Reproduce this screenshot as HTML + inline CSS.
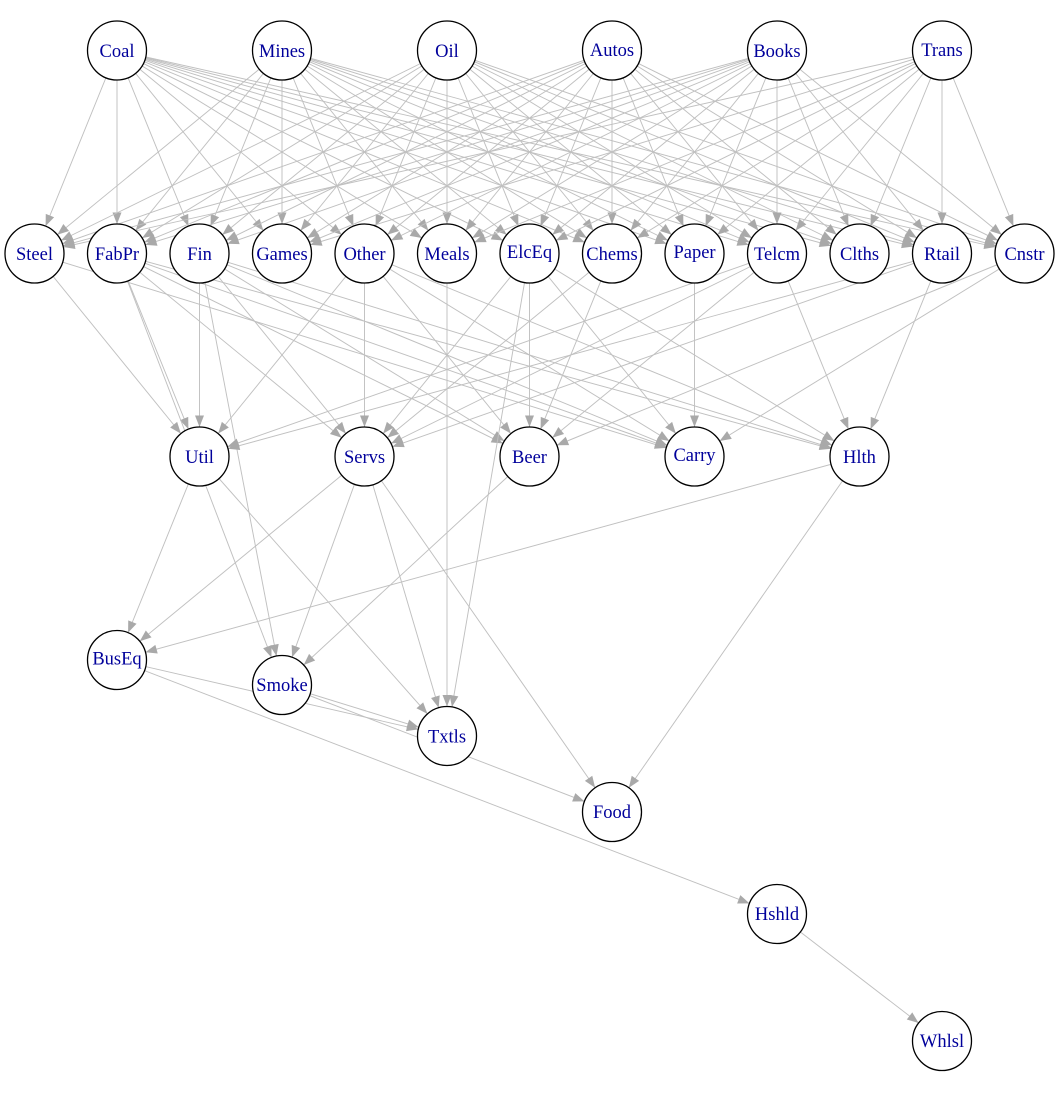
<!DOCTYPE html>
<html>
<head>
<meta charset="utf-8">
<style>
html,body{margin:0;padding:0;background:#fff;}
svg{display:block;}
line{stroke:#c0c0c0;stroke-width:.95;marker-end:url(#a);}
circle{fill:#fff;stroke:#000;stroke-width:1.3;}
text{font-family:"Liberation Serif",serif;font-size:18.5px;fill:#00009b;text-anchor:middle;}
</style>
</head>
<body>
<svg width="1062" height="1095" viewBox="0 0 1062 1095" xmlns="http://www.w3.org/2000/svg">
<defs>
<marker id="a" markerUnits="userSpaceOnUse" markerWidth="1" markerHeight="1" refX="0" refY="0" orient="auto" overflow="visible">
<polygon points="-29.5,0 -41,-4.5 -41,4.5" fill="#a9a9a9"/>
</marker>
</defs>
<g>
<line x1="117" y1="50.5" x2="34.5" y2="253.5"/><line x1="117" y1="50.5" x2="117" y2="253.5"/><line x1="117" y1="50.5" x2="199.5" y2="253.5"/><line x1="117" y1="50.5" x2="282" y2="253.5"/><line x1="117" y1="50.5" x2="364.5" y2="253.5"/><line x1="117" y1="50.5" x2="447" y2="253.5"/><line x1="117" y1="50.5" x2="529.5" y2="253.5"/><line x1="117" y1="50.5" x2="612" y2="253.5"/><line x1="117" y1="50.5" x2="694.5" y2="253.5"/><line x1="117" y1="50.5" x2="777" y2="253.5"/><line x1="117" y1="50.5" x2="859.5" y2="253.5"/><line x1="117" y1="50.5" x2="942" y2="253.5"/><line x1="117" y1="50.5" x2="1024.5" y2="253.5"/>
<line x1="282" y1="50.5" x2="34.5" y2="253.5"/><line x1="282" y1="50.5" x2="117" y2="253.5"/><line x1="282" y1="50.5" x2="199.5" y2="253.5"/><line x1="282" y1="50.5" x2="282" y2="253.5"/><line x1="282" y1="50.5" x2="364.5" y2="253.5"/><line x1="282" y1="50.5" x2="447" y2="253.5"/><line x1="282" y1="50.5" x2="529.5" y2="253.5"/><line x1="282" y1="50.5" x2="612" y2="253.5"/><line x1="282" y1="50.5" x2="694.5" y2="253.5"/><line x1="282" y1="50.5" x2="777" y2="253.5"/><line x1="282" y1="50.5" x2="859.5" y2="253.5"/><line x1="282" y1="50.5" x2="942" y2="253.5"/><line x1="282" y1="50.5" x2="1024.5" y2="253.5"/>
<line x1="447" y1="50.5" x2="34.5" y2="253.5"/><line x1="447" y1="50.5" x2="117" y2="253.5"/><line x1="447" y1="50.5" x2="199.5" y2="253.5"/><line x1="447" y1="50.5" x2="282" y2="253.5"/><line x1="447" y1="50.5" x2="364.5" y2="253.5"/><line x1="447" y1="50.5" x2="447" y2="253.5"/><line x1="447" y1="50.5" x2="529.5" y2="253.5"/><line x1="447" y1="50.5" x2="612" y2="253.5"/><line x1="447" y1="50.5" x2="694.5" y2="253.5"/><line x1="447" y1="50.5" x2="777" y2="253.5"/><line x1="447" y1="50.5" x2="859.5" y2="253.5"/><line x1="447" y1="50.5" x2="942" y2="253.5"/><line x1="447" y1="50.5" x2="1024.5" y2="253.5"/>
<line x1="612" y1="50.5" x2="34.5" y2="253.5"/><line x1="612" y1="50.5" x2="117" y2="253.5"/><line x1="612" y1="50.5" x2="199.5" y2="253.5"/><line x1="612" y1="50.5" x2="282" y2="253.5"/><line x1="612" y1="50.5" x2="364.5" y2="253.5"/><line x1="612" y1="50.5" x2="447" y2="253.5"/><line x1="612" y1="50.5" x2="529.5" y2="253.5"/><line x1="612" y1="50.5" x2="612" y2="253.5"/><line x1="612" y1="50.5" x2="694.5" y2="253.5"/><line x1="612" y1="50.5" x2="777" y2="253.5"/><line x1="612" y1="50.5" x2="859.5" y2="253.5"/><line x1="612" y1="50.5" x2="942" y2="253.5"/><line x1="612" y1="50.5" x2="1024.5" y2="253.5"/>
<line x1="777" y1="50.5" x2="34.5" y2="253.5"/><line x1="777" y1="50.5" x2="117" y2="253.5"/><line x1="777" y1="50.5" x2="199.5" y2="253.5"/><line x1="777" y1="50.5" x2="282" y2="253.5"/><line x1="777" y1="50.5" x2="364.5" y2="253.5"/><line x1="777" y1="50.5" x2="447" y2="253.5"/><line x1="777" y1="50.5" x2="529.5" y2="253.5"/><line x1="777" y1="50.5" x2="612" y2="253.5"/><line x1="777" y1="50.5" x2="694.5" y2="253.5"/><line x1="777" y1="50.5" x2="777" y2="253.5"/><line x1="777" y1="50.5" x2="859.5" y2="253.5"/><line x1="777" y1="50.5" x2="942" y2="253.5"/><line x1="777" y1="50.5" x2="1024.5" y2="253.5"/>
<line x1="942" y1="50.5" x2="34.5" y2="253.5"/><line x1="942" y1="50.5" x2="282" y2="253.5"/><line x1="942" y1="50.5" x2="447" y2="253.5"/><line x1="942" y1="50.5" x2="529.5" y2="253.5"/><line x1="942" y1="50.5" x2="612" y2="253.5"/><line x1="942" y1="50.5" x2="694.5" y2="253.5"/><line x1="942" y1="50.5" x2="777" y2="253.5"/><line x1="942" y1="50.5" x2="859.5" y2="253.5"/><line x1="942" y1="50.5" x2="942" y2="253.5"/><line x1="942" y1="50.5" x2="1024.5" y2="253.5"/>

<line x1="34.5" y1="253.5" x2="199.5" y2="456.5"/><line x1="34.5" y1="253.5" x2="694.5" y2="456.5"/>
<line x1="117" y1="253.5" x2="199.5" y2="456.5"/><line x1="117" y1="253.5" x2="364.5" y2="456.5"/><line x1="117" y1="253.5" x2="529.5" y2="456.5"/><line x1="117" y1="253.5" x2="694.5" y2="456.5"/><line x1="117" y1="253.5" x2="859.5" y2="456.5"/><line x1="117" y1="253.5" x2="282" y2="685"/>
<line x1="199.5" y1="253.5" x2="199.5" y2="456.5"/><line x1="199.5" y1="253.5" x2="364.5" y2="456.5"/><line x1="199.5" y1="253.5" x2="529.5" y2="456.5"/><line x1="199.5" y1="253.5" x2="694.5" y2="456.5"/><line x1="199.5" y1="253.5" x2="859.5" y2="456.5"/><line x1="199.5" y1="253.5" x2="282" y2="685"/>
<line x1="364.5" y1="253.5" x2="199.5" y2="456.5"/><line x1="364.5" y1="253.5" x2="364.5" y2="456.5"/><line x1="364.5" y1="253.5" x2="529.5" y2="456.5"/><line x1="364.5" y1="253.5" x2="694.5" y2="456.5"/><line x1="364.5" y1="253.5" x2="859.5" y2="456.5"/>
<line x1="447" y1="253.5" x2="447" y2="736"/>
<line x1="529.5" y1="253.5" x2="364.5" y2="456.5"/><line x1="529.5" y1="253.5" x2="529.5" y2="456.5"/><line x1="529.5" y1="253.5" x2="694.5" y2="456.5"/><line x1="529.5" y1="253.5" x2="859.5" y2="456.5"/><line x1="529.5" y1="253.5" x2="447" y2="736"/>
<line x1="612" y1="253.5" x2="364.5" y2="456.5"/><line x1="612" y1="253.5" x2="529.5" y2="456.5"/>
<line x1="694.5" y1="253.5" x2="694.5" y2="456.5"/>
<line x1="777" y1="253.5" x2="199.5" y2="456.5"/><line x1="777" y1="253.5" x2="364.5" y2="456.5"/><line x1="777" y1="253.5" x2="529.5" y2="456.5"/><line x1="777" y1="253.5" x2="859.5" y2="456.5"/>
<line x1="942" y1="253.5" x2="199.5" y2="456.5"/><line x1="942" y1="253.5" x2="364.5" y2="456.5"/><line x1="942" y1="253.5" x2="859.5" y2="456.5"/>
<line x1="1024.5" y1="253.5" x2="529.5" y2="456.5"/><line x1="1024.5" y1="253.5" x2="694.5" y2="456.5"/>

<line x1="199.5" y1="456.5" x2="117" y2="660"/><line x1="199.5" y1="456.5" x2="447" y2="736"/>
<line x1="364.5" y1="456.5" x2="117" y2="660"/><line x1="364.5" y1="456.5" x2="282" y2="685"/><line x1="364.5" y1="456.5" x2="447" y2="736"/><line x1="364.5" y1="456.5" x2="612" y2="812"/>
<line x1="529.5" y1="456.5" x2="282" y2="685"/>
<line x1="859.5" y1="456.5" x2="117" y2="660"/><line x1="859.5" y1="456.5" x2="612" y2="812"/>
<line x1="117" y1="660" x2="447" y2="736"/><line x1="117" y1="660" x2="777" y2="914"/>
<line x1="282" y1="685" x2="447" y2="736"/><line x1="282" y1="685" x2="612" y2="812"/>
<line x1="777" y1="914" x2="942" y2="1041"/>
</g>
<g>
<circle cx="117" cy="50.5" r="29.5"/><text x="117" y="57">Coal</text>
<circle cx="282" cy="50.5" r="29.5"/><text x="282" y="57">Mines</text>
<circle cx="447" cy="50.5" r="29.5"/><text x="447" y="57">Oil</text>
<circle cx="612" cy="50.5" r="29.5"/><text x="612" y="56">Autos</text>
<circle cx="777" cy="50.5" r="29.5"/><text x="777" y="57">Books</text>
<circle cx="942" cy="50.5" r="29.5"/><text x="942" y="56">Trans</text>
<circle cx="34.5" cy="253.5" r="29.5"/><text x="34.5" y="260">Steel</text>
<circle cx="117" cy="253.5" r="29.5"/><text x="117" y="260">FabPr</text>
<circle cx="199.5" cy="253.5" r="29.5"/><text x="199.5" y="260">Fin</text>
<circle cx="282" cy="253.5" r="29.5"/><text x="282" y="260">Games</text>
<circle cx="364.5" cy="253.5" r="29.5"/><text x="364.5" y="260">Other</text>
<circle cx="447" cy="253.5" r="29.5"/><text x="447" y="260">Meals</text>
<circle cx="529.5" cy="253.5" r="29.5"/><text x="529.5" y="258">ElcEq</text>
<circle cx="612" cy="253.5" r="29.5"/><text x="612" y="260">Chems</text>
<circle cx="694.5" cy="253.5" r="29.5"/><text x="694.5" y="258">Paper</text>
<circle cx="777" cy="253.5" r="29.5"/><text x="777" y="260">Telcm</text>
<circle cx="859.5" cy="253.5" r="29.5"/><text x="859.5" y="260">Clths</text>
<circle cx="942" cy="253.5" r="29.5"/><text x="942" y="260">Rtail</text>
<circle cx="1024.5" cy="253.5" r="29.5"/><text x="1024.5" y="260">Cnstr</text>
<circle cx="199.5" cy="456.5" r="29.5"/><text x="199.5" y="463">Util</text>
<circle cx="364.5" cy="456.5" r="29.5"/><text x="364.5" y="463">Servs</text>
<circle cx="529.5" cy="456.5" r="29.5"/><text x="529.5" y="463">Beer</text>
<circle cx="694.5" cy="456.5" r="29.5"/><text x="694.5" y="461">Carry</text>
<circle cx="859.5" cy="456.5" r="29.5"/><text x="859.5" y="463">Hlth</text>
<circle cx="117" cy="660" r="29.5"/><text x="117" y="664.5">BusEq</text>
<circle cx="282" cy="685" r="29.5"/><text x="282" y="691">Smoke</text>
<circle cx="447" cy="736" r="29.5"/><text x="447" y="742.5">Txtls</text>
<circle cx="612" cy="812" r="29.5"/><text x="612" y="818">Food</text>
<circle cx="777" cy="914" r="29.5"/><text x="777" y="920">Hshld</text>
<circle cx="942" cy="1041" r="29.5"/><text x="942" y="1047">Whlsl</text>
</g>
</svg>
</body>
</html>
